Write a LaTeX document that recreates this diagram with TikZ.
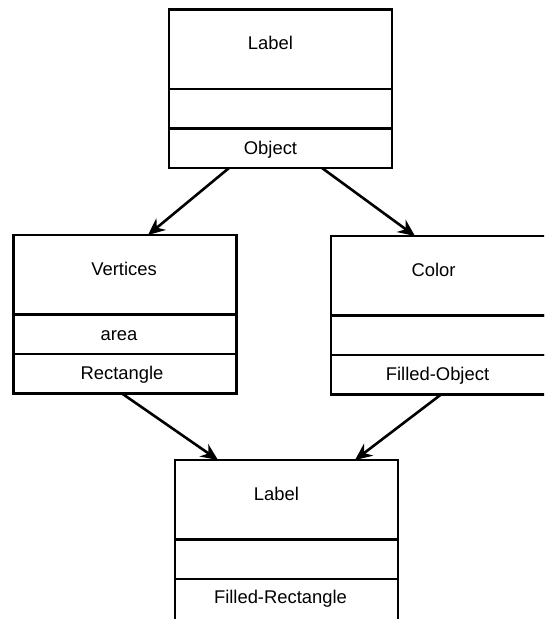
\documentclass[tikz,border=0pt]{standalone}
\usepackage{fontspec}
\setmainfont{Liberation Sans}
\usetikzlibrary{positioning,arrows.meta}

\begin{document}
\begin{tikzpicture}[
  x=1pt, y=1pt,
  node distance=0pt,
  part/.style={draw,line width=2.6pt,minimum width=223pt,inner sep=0pt,outer sep=0pt,
    text height=13pt,text depth=1pt,font=\fontsize{18.4}{22}\selectfont},
  namepart/.style={part,minimum height=79.5pt,text depth=12pt},
  attrpart/.style={part,minimum height=39.5pt},
  tshift/.style={execute at begin node={\hspace*{#1}}},
  inherit/.style={-{Stealth[length=17pt,width=15pt]},line width=2.6pt}
]
\useasboundingbox (0,0) rectangle (544,-619);
\clip (0,0) rectangle (544,-619);

% top class
\node[namepart,tshift=-20pt] (obj1) at (280.5,-49.25) {Label};
\node[attrpart,below=of obj1] (obj2) {};
\node[attrpart,below=of obj2,tshift=-20pt] (obj3) {Object};

% left class
\node[namepart,below=67pt of obj3,xshift=-155.5pt,tshift=-2pt] (rect1) {Vertices};
\node[attrpart,below=of rect1,tshift=-12pt] (rect2) {area};
\node[attrpart,below=of rect2,tshift=-6pt] (rect3) {Rectangle};

% right class
\node[namepart,below=68pt of obj3,xshift=162pt,tshift=-18pt] (fobj1) {Color};
\node[attrpart,below=of fobj1] (fobj2) {};
\node[attrpart,below=of fobj2,tshift=-10pt] (fobj3) {Filled-Object};

% bottom class (runs past the lower edge)
\node[namepart,below=66.5pt of rect3,xshift=161.5pt,tshift=-20pt] (frect1) {Label};
\node[attrpart,below=of frect1] (frect2) {};
\node[attrpart,below=of frect2,minimum height=44pt,text depth=9pt,tshift=-12pt] (frect3) {Filled-Rectangle};

\draw[inherit] ([xshift=-51.5pt]obj3.south) -- ([xshift=23pt]rect1.north);
\draw[inherit] ([xshift=41.5pt]obj3.south) -- ([xshift=-27.5pt]fobj1.north);
\draw[inherit] ([xshift=-3pt]rect3.south) -- ([xshift=-68.5pt]frect1.north);
\draw[inherit] ([xshift=-1.5pt]fobj3.south) -- ([xshift=68.5pt]frect1.north);
\end{tikzpicture}
\end{document}
